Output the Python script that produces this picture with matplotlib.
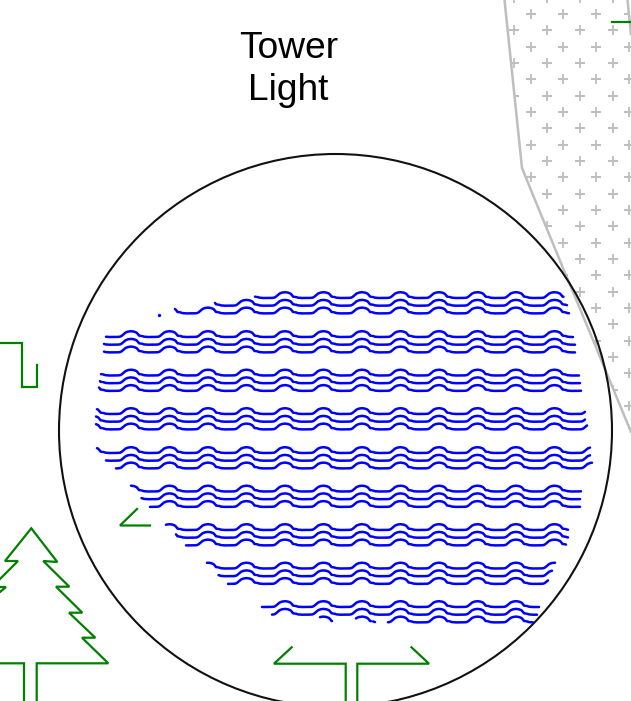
import numpy as np
import matplotlib.pyplot as plt
from matplotlib.patches import Circle, Polygon

# everything is in picture pixels, y goes down
W, H = 631, 701
GREEN = "#008000"
BLUE = "#0000ff"
GRAY = "#bebebe"

title_lines = ["Tower", "Light"]

circle_center = (335.5, 430.5)
circle_radius = 276.5

# stippled area (outline)
area_x = [504, 522, 535, 563, 593, 631, 640, 640, 631, 627]
area_y = [-5, 168, 200, 268, 340, 432, 432, -5, 35, -5]

# green symbols
tree_x = [-10, 24, 24, 36.7, 36.7, 108.3, 82, 95.3, 69, 82.3, 56, 69.3, 43.3, 57.3, 31.3, 5, 18, -4]
tree_y = [663.3, 663.3, 710, 710, 663.3, 663.3, 637.7, 637.7, 612.7, 612.7, 586.7, 586.7, 561, 562, 528.3, 561, 561, 583]
tree2_x = [-5, 6, 0]
tree2_y = [587, 587, 592]
tree3_x = [291.7, 274, 345.7, 345.7]
tree3_y = [647.3, 663.7, 663.7, 710]
tree4_x = [357.3, 357.3, 429, 411.5]
tree4_y = [710, 663.7, 663.7, 647.3]
symbol_left_x = [-5, 22, 22, 37, 37]
symbol_left_y = [343, 343, 387, 387, 365]
symbol_mid_x = [137, 120, 150]
symbol_mid_y = [509, 525.5, 525.5]
symbol_top_x = [611.7, 635]
symbol_top_y = [22, 22]

# water rows: level of the first line in each group
row_levels = [298, 337, 375.5, 414, 453, 491.5, 530, 568.5, 607]
line_gap = 7.7
hump_first = 131
hump_period = 38.5
# one period of the wave around a hump, height above the flat level
wave_dx = [-19.25, -14, -11, -9.5, -7.5, -5.5, -3, 0, 3, 5.5, 7, 8, 11, 13, 16]
wave_up = [0.0, 0.0, 0.3, 1.0, 2.6, 4.4, 5.4, 5.8, 5.4, 4.4, 2.8, 1.4, 1.0, 0.3, 0.0]
# the pen lifts just after each hump
gap_from = 9.0
gap_to = 10.2

# x start / x end of the three lines of each row
line_starts = [[255, 215, 175], [106, 104, 104], [101, 100, 99],
               [97, 96, 96], [97, 106, 116], [131, 140, 150],
               [166, 176, 186], [207, 218, 228], [262, 272, 388]]
line_ends = [[565, 567, 569], [573, 575, 575], [579, 580, 581],
             [585, 585, 587], [590, 590, 592], [581, 580, 580],
             [568, 568, 566], [555, 552, 548], [539, 537, 533]]
# broken bits of the last line
extra_row = 8
extra_line = 2
extra_starts = [320, 356, 373]
extra_ends = [332, 371, 375]

fig = plt.figure(figsize=(W / 100, H / 100), dpi=100)
ax = fig.add_axes([0, 0, 1, 1])
ax.set_xlim(0, W)
ax.set_ylim(H, 0)
ax.axis("off")

# stipple
region = Polygon(np.column_stack([area_x, area_y]), closed=True, fc="white", ec=GRAY, lw=1.8, zorder=1)
ax.add_patch(region)
plus_x = []
plus_y = []
for k in range(-1, 28):
    y = 14 + 16.33 * k
    x0 = 530.7 if k % 2 == 0 else 514.4
    for j in range(-1, 5):
        plus_x.append(x0 + 32.7 * j)
        plus_y.append(y)
pts = ax.plot(plus_x, plus_y, "+", color=GRAY, ms=6.8, mew=1.3, zorder=1.5)[0]
pts.set_clip_path(region)

ax.add_patch(Circle(circle_center, circle_radius, fc="none", ec="#111111", lw=1.5, zorder=3))

for xs, ys in [(tree_x, tree_y), (tree2_x, tree2_y), (tree3_x, tree3_y), (tree4_x, tree4_y),
               (symbol_left_x, symbol_left_y), (symbol_mid_x, symbol_mid_y), (symbol_top_x, symbol_top_y)]:
    ax.plot(xs, ys, color=GREEN, lw=1.6, solid_joinstyle="miter", zorder=2)

# one long wave, cut to each line's extent
wave_x = []
wave_y = []
for n in range(-2, 14):
    wave_x.extend(hump_first + hump_period * n + np.array(wave_dx))
    wave_y.extend(wave_up)
wave_x = np.array(wave_x)
wave_y = np.array(wave_y)


def draw_wave(x_start, x_end, level):
    xs = np.arange(x_start, x_end + 0.5, 0.5)
    ys = level - np.interp(xs, wave_x, wave_y)
    # offset from the nearest hump, for the pen lift
    off = (xs - hump_first + hump_period / 2) % hump_period - hump_period / 2
    ys[(off > gap_from) & (off < gap_to)] = np.nan
    ax.plot(xs, ys, color=BLUE, lw=1.8, solid_capstyle="round", zorder=4)


for r, level in enumerate(row_levels):
    for i in range(3):
        draw_wave(line_starts[r][i], line_ends[r][i], level + i * line_gap)

for a, b in zip(extra_starts, extra_ends):
    draw_wave(a, b, row_levels[extra_row] + extra_line * line_gap)

ax.plot([158.5], [314.5], "o", color=BLUE, ms=2.4, mew=0, zorder=4)

ax.text(288.5, 49, title_lines[0], ha="center", va="center", fontsize=26.7, family="Liberation Sans", color="black")
ax.text(288.5, 91, title_lines[1], ha="center", va="center", fontsize=26.7, family="Liberation Sans", color="black")

fig.savefig("out.png", dpi=100)
